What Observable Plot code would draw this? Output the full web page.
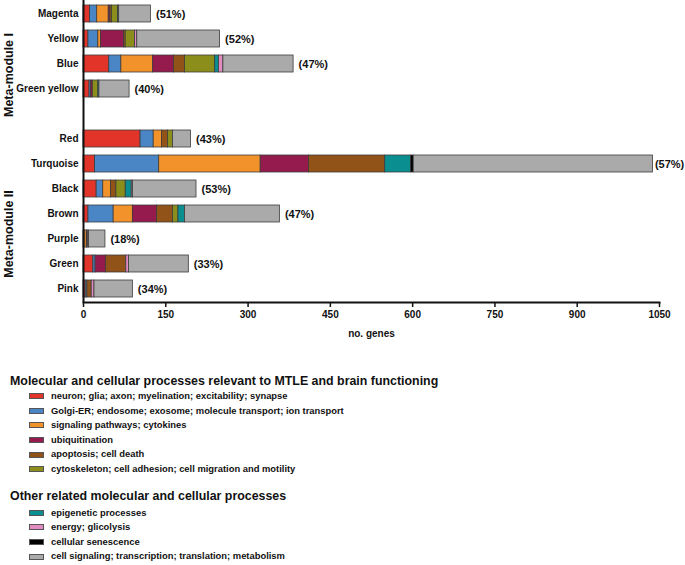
<!DOCTYPE html>
<html>
<head>
<meta charset="utf-8">
<script src="https://cdn.jsdelivr.net/npm/d3@7"></script>
<script src="https://cdn.jsdelivr.net/npm/@observablehq/plot@0.6"></script>
<style>
  body { margin: 0; background: #fff; font-family: "Liberation Sans", Arial, sans-serif; }
  #chart svg { overflow: visible; display: block; }
  .legend { margin-left: 10px; color: #111; }
  .ltitle { font-size: 12.4px; font-weight: bold; line-height: 16px; }
  .litem { font-size: 9.4px; font-weight: bold; line-height: 14.6px; padding-left: 19px; display: flex; align-items: center; }
  .sw { width: 13px; height: 4px; border: 1px solid #555; margin-right: 7px; }
</style>
</head>
<body>
<div id="chart"></div>
<div class="legend" id="legend"></div>
<script>
const modules = ["Magenta","Yellow","Blue","Green yellow","Red","Turquoise","Black","Brown","Purple","Green","Pink"];
const percents = [51, 52, 47, 40, 43, 57, 53, 47, 18, 33, 34];
const yDomain = ["Magenta","Yellow","Blue","Green yellow","_gap","Red","Turquoise","Black","Brown","Purple","Green","Pink"];

const categories = [
  "neuron; glia; axon; myelination; excitability; synapse",
  "Golgi-ER; endosome; exosome; molecule transport; ion transport",
  "signaling pathways; cytokines",
  "ubiquitination",
  "apoptosis; cell death",
  "cytoskeleton; cell adhesion; cell migration and motility",
  "epigenetic processes",
  "energy; glicolysis",
  "cellular senescence",
  "cell signaling; transcription; translation; metabolism"
];
const colors = ["#e3342a","#4a86c6","#f1922a","#951a4e","#915317","#8c8e1c","#0b8e8f","#e08cc0","#000000","#aaaaaa"];
const groupTitles = ["Molecular and cellular processes relevant to MTLE and brain functioning", "Other related molecular and cellular processes"];
const groupSizes = [6, 4];

// values per category, in module order
const neuron       = [12,   9,  47, 11, 104,  21,  24,   9,  2,  18,  4];
const golgi        = [13,  18,  22,  3,  24, 117,  12,  46,  0,   4,  3];
const signaling    = [21,   5,  58,  0,  15, 185,  14,  35,  4,   0,  0];
const ubiquitin    = [ 3,  42,  38,  3,   0,  88,   0,  44,  1,  19,  0];
const apoptosis    = [ 3,   3,  20,  0,  11, 139,  10,  29,  1,  37,  8];
const cytoskeleton = [11,  17,  55, 10,   9,   0,  17,  10,  0,   0,  0];
const epigenetic   = [ 2,   0,   7,  2,   0,  47,  11,  12,  0,   0,  0];
const energy       = [ 0,   4,   8,  0,   0,   0,   2,   0,  2,   5,  5];
const senescence   = [ 0,   0,   0,  0,   0,   5,   0,   0,  0,   0,  0];
const cellSignal   = [58, 151, 128, 55,  33, 436, 116, 173, 30, 109, 70];
const series = [neuron, golgi, signaling, ubiquitin, apoptosis, cytoskeleton, epigenetic, energy, senescence, cellSignal];
const xTicks = [0, 150, 300, 450, 600, 750, 900, 1050];
const metaLabels = ["Meta-module I", "Meta-module II"];

const rows = [];
modules.forEach((m, i) => {
  series.forEach((s, j) => {
    if (s[i] > 0) rows.push({module: m, category: categories[j], value: s[i]});
  });
});
const totals = modules.map((m, i) => d3.sum(series, s => s[i]));

const metaStyle = {frameAnchor: "left", textAnchor: "middle", dx: -75, rotate: -90, fontSize: 12.5, fontWeight: "bold", fill: "#111"};
const pctStyle = {x: (d, i) => totals[i], y: d => d, text: (d, i) => `(${percents[i]}%)`, textAnchor: "start", fontSize: 11, fontWeight: "bold", fill: "#111"};

const chart = Plot.plot({
  width: 685,
  height: 345,
  marginLeft: 83,
  marginRight: 26,
  marginTop: 0,
  marginBottom: 43,
  style: {fontFamily: '"Liberation Sans", Arial, sans-serif', color: "#111"},
  x: {domain: [0, 1050]},
  y: {domain: yDomain, paddingInner: 0.32, paddingOuter: 0.2},
  color: {domain: categories, range: colors},
  marks: [
    Plot.barX(rows, {x: "value", y: "module", fill: "category", stroke: "#3c3c3c", strokeWidth: 0.8}),
    Plot.text(modules, {...pctStyle, dx: 5, filter: (d, i) => totals[i] < 1000}),
    Plot.text(modules, {...pctStyle, dx: 2, filter: (d, i) => totals[i] >= 1000}),
    Plot.axisY({tickSize: 0, tickPadding: 5, fontSize: 10, fontWeight: "bold", label: null, tickFormat: d => d.startsWith("_") ? "" : d}),
    Plot.axisX(xTicks, {tickSize: 5, strokeWidth: 1.5, tickPadding: 3, fontSize: 10, fontWeight: "bold", tickFormat: d => String(d), label: "no. genes", labelAnchor: "center", labelArrow: "none", labelOffset: 34}),
    Plot.text([metaLabels[0]], {y: () => "Blue", text: d => d, dy: 11, ...metaStyle}),
    Plot.text([metaLabels[1]], {y: () => "Purple", text: d => d, dy: -5, ...metaStyle}),
    Plot.ruleX([0], {strokeWidth: 2}),
    Plot.frame({anchor: "bottom", strokeWidth: 2})
  ]
});
document.getElementById("chart").appendChild(chart);

const legend = document.getElementById("legend");
legend.style.marginTop = "28px";
let k = 0;
groupTitles.forEach((g, gi) => {
  const t = document.createElement("div");
  t.className = "ltitle";
  t.textContent = g;
  if (gi === 1) { t.style.marginTop = "11px"; t.style.marginBottom = "2px"; }
  legend.appendChild(t);
  for (let n = 0; n < groupSizes[gi]; n++, k++) {
    const it = document.createElement("div");
    it.className = "litem";
    const sw = document.createElement("span");
    sw.className = "sw";
    sw.style.background = colors[k];
    it.appendChild(sw);
    it.appendChild(document.createTextNode(categories[k]));
    legend.appendChild(it);
  }
});
</script>
</body>
</html>
